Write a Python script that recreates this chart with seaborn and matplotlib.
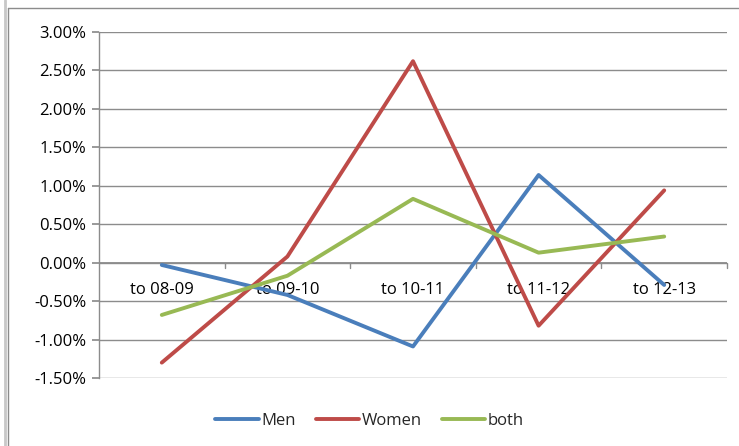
import matplotlib
matplotlib.use("Agg")
import matplotlib.pyplot as plt
import seaborn as sns
import pandas as pd
from matplotlib.lines import Line2D
from matplotlib.ticker import FuncFormatter

categories = ["to 08-09", "to 09-10", "to 10-11", "to 11-12", "to 12-13"]
men = [-0.03, -0.42, -1.09, 1.14, -0.29]
women = [-1.30, 0.08, 2.62, -0.82, 0.94]
both = [-0.68, -0.17, 0.83, 0.13, 0.34]

series_names = ["Men", "Women", "both"]
colors = ["#4A7EBB", "#BE4B48", "#98B954"]

rows = []
for name, vals in zip(series_names, [men, women, both]):
    for i, (c, v) in enumerate(zip(categories, vals)):
        rows.append({"cat": c, "pos": i, "value": v, "series": name})
df = pd.DataFrame(rows)

sns.set_theme(style="white")
plt.rcParams['font.family'] = ['Open Sans', 'DejaVu Sans']

FS = 12

fig = plt.figure(figsize=(7.39, 4.46), dpi=100)
ax = fig.add_axes([99/739, 1 - 378/446, (727-99)/739, (378-32)/446])

sns.lineplot(data=df, x="pos", y="value", hue="series", palette=colors,
             hue_order=series_names, ax=ax, linewidth=2.8, legend=False,
             sort=False, zorder=3)

ax.set_xlim(-0.5, 4.5)
ax.set_ylim(-1.5, 3.0)
ax.set_yticks([-1.5, -1.0, -0.5, 0, 0.5, 1.0, 1.5, 2.0, 2.5, 3.0])
ax.yaxis.set_major_formatter(FuncFormatter(lambda v, p: f"{v:.2f}%"))
ax.grid(axis="y", color="#8c8c8c", linewidth=1)
ax.set_axisbelow(True)
ax.set_xticks([])
ax.set_xlabel("")
ax.set_ylabel("")
for s in ["top", "right", "bottom"]:
    ax.spines[s].set_visible(False)
ax.spines["left"].set_color("#8c8c8c")
ax.spines["left"].set_linewidth(1)
ax.tick_params(axis="y", length=5, color="#8c8c8c", labelsize=FS, pad=4,
               direction="out", left=True, labelcolor="black")

# category axis at zero with tick marks between categories
ax.axhline(0, color="#8c8c8c", linewidth=1.3, zorder=2)
for b in [0.5, 1.5, 2.5, 3.5, 4.5]:
    ax.plot([b, b], [0, -0.07], color="#8c8c8c", linewidth=1, zorder=2, clip_on=False)
for i, c in enumerate(categories):
    ax.text(i, -0.36, c, ha="center", va="center", fontsize=FS, color="black", zorder=1)

handles = [Line2D([0], [0], color=col, linewidth=2.8) for col in colors]
fig.legend(handles, series_names, loc="center", bbox_to_anchor=(0.5, 1 - 421/446),
           ncol=3, frameon=False, fontsize=FS, handlelength=2.6,
           columnspacing=1.2, handletextpad=0.15)

# outer chart frame
fig.add_artist(Line2D([5/739, 5/739], [0, 1], color="#c8c8c8", linewidth=2, transform=fig.transFigure))
fig.add_artist(Line2D([7.5/739, 7.5/739], [0, 1 - 8/446], color="#8c8c8c", linewidth=1, transform=fig.transFigure))
fig.add_artist(Line2D([7.5/739, 1], [1 - 8/446, 1 - 8/446], color="#8c8c8c", linewidth=1, transform=fig.transFigure))

fig.savefig("out.png", dpi=100)
